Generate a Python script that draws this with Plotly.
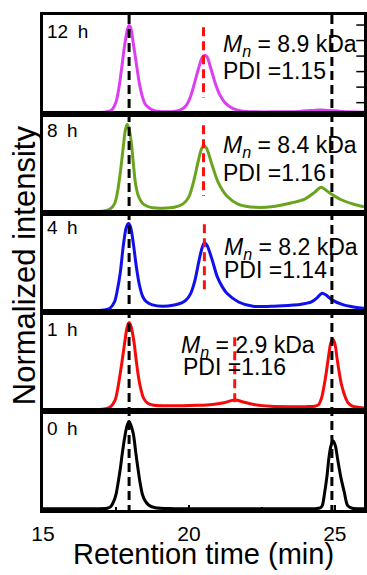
import plotly.graph_objects as go

# ---------------- data ----------------
panel_labels = ["12 h", "8 h", "4 h", "1 h", "0 h"]
mn_values = ["8.9", "8.4", "8.2", "2.9", None]
pdi_values = ["1.15", "1.16", "1.14", "1.16", None]

x_12h = [15.0, 16.0, 16.8, 17.2, 17.35, 17.5, 17.6, 17.7, 17.8, 17.9, 17.95, 18.0, 18.1, 18.2, 18.3, 18.4,
         18.5, 18.65, 18.85, 19.2, 19.5, 19.7, 19.9, 20.05, 20.2, 20.35, 20.45, 20.53, 20.62, 20.75, 20.9,
         21.05, 21.25, 21.5, 21.8, 22.3, 23.0, 23.8, 24.2, 24.5, 24.8, 25.2, 26.0]
y_12h = [0.0, 0.0, 0.0, 0.01, 0.03, 0.12, 0.28, 0.52, 0.78, 0.96, 1.0, 0.98, 0.78, 0.56, 0.34, 0.19,
         0.10, 0.05, 0.02, 0.01, 0.015, 0.03, 0.08, 0.18, 0.35, 0.53, 0.63, 0.657, 0.64, 0.51, 0.34,
         0.21, 0.11, 0.05, 0.02, 0.01, 0.01, 0.015, 0.025, 0.03, 0.025, 0.015, 0.005]

x_8h = [15.0, 16.0, 16.8, 17.15, 17.3, 17.45, 17.55, 17.65, 17.75, 17.82, 17.88, 17.95, 18.03, 18.1, 18.17,
        18.27, 18.4, 18.55, 18.75, 19.1, 19.5, 19.8, 20.0, 20.15, 20.3, 20.42, 20.5, 20.6, 20.8, 21.0, 21.3,
        21.7, 22.3, 22.9, 23.5, 23.95, 24.3, 24.53, 24.8, 25.2, 25.65, 26.0]
y_8h = [0.0, 0.0, 0.0, 0.01, 0.03, 0.09, 0.22, 0.45, 0.74, 0.93, 1.0, 0.95, 0.78, 0.54, 0.32,
        0.18, 0.10, 0.065, 0.045, 0.04, 0.05, 0.09, 0.17, 0.33, 0.55, 0.71, 0.76, 0.73, 0.53, 0.34, 0.18,
        0.085, 0.05, 0.06, 0.10, 0.14, 0.22, 0.28, 0.22, 0.14, 0.085, 0.055]

x_4h = [15.0, 16.0, 16.8, 17.15, 17.3, 17.45, 17.55, 17.65, 17.75, 17.85, 17.93, 18.0, 18.1, 18.2, 18.3,
        18.42, 18.55, 18.75, 19.1, 19.5, 19.75, 19.9, 20.05, 20.2, 20.35, 20.45, 20.53, 20.62, 20.8, 20.97,
        21.15, 21.3, 21.7, 22.2, 22.8, 23.4, 23.8, 24.2, 24.4, 24.56, 24.7, 24.9, 25.3, 25.7, 26.0]
y_4h = [0.0, 0.0, 0.0, 0.01, 0.03, 0.10, 0.24, 0.44, 0.74, 0.95, 1.0, 0.96, 0.76, 0.50, 0.30,
        0.16, 0.10, 0.066, 0.05, 0.066, 0.09, 0.12, 0.19, 0.34, 0.58, 0.72, 0.78, 0.75, 0.58, 0.39,
        0.27, 0.20, 0.10, 0.05, 0.05, 0.06, 0.07, 0.10, 0.15, 0.20, 0.18, 0.124, 0.066, 0.04, 0.028]

x_1h = [15.0, 16.0, 16.8, 17.15, 17.32, 17.47, 17.55, 17.63, 17.72, 17.8, 17.88, 17.95, 18.02, 18.12, 18.2,
        18.27, 18.35, 18.45, 18.6, 18.8, 19.2, 19.8, 20.3, 20.8, 21.2, 21.57, 21.9, 22.3, 22.8, 23.5, 24.0,
        24.3, 24.45, 24.55, 24.63, 24.7, 24.78, 24.85, 24.92, 25.0, 25.08, 25.15, 25.22, 25.32, 25.45,
        25.6, 26.0]
y_1h = [0.0, 0.0, 0.0, 0.01, 0.035, 0.11, 0.22, 0.38, 0.58, 0.77, 0.94, 1.0, 0.95, 0.77, 0.55,
        0.38, 0.24, 0.13, 0.07, 0.05, 0.045, 0.045, 0.05, 0.06, 0.08, 0.11, 0.085, 0.055, 0.04, 0.035, 0.035,
        0.04, 0.06, 0.14, 0.27, 0.41, 0.60, 0.75, 0.81, 0.76, 0.58, 0.43, 0.30, 0.18, 0.08,
        0.04, 0.02]

x_0h = [15.0, 16.0, 16.8, 17.2, 17.32, 17.42, 17.5, 17.58, 17.65, 17.72, 17.8, 17.88, 17.95, 18.02, 18.1,
        18.18, 18.25, 18.32, 18.41, 18.5, 18.63, 18.85, 19.5, 21.0, 23.0, 24.3, 24.5, 24.57, 24.65, 24.73,
        24.79, 24.86, 24.94, 25.02, 25.1, 25.2, 25.33, 25.44, 25.6, 26.0]
y_0h = [0.0, 0.0, 0.0, 0.005, 0.023, 0.08, 0.16, 0.31, 0.46, 0.64, 0.82, 0.95, 1.0, 0.95, 0.85,
        0.64, 0.47, 0.31, 0.16, 0.09, 0.04, 0.01, 0.0, 0.0, 0.0, 0.0, 0.01, 0.035, 0.18, 0.37,
        0.56, 0.71, 0.78, 0.72, 0.56, 0.37, 0.18, 0.035, 0.005, 0.0]

curves_x = [x_12h, x_8h, x_4h, x_1h, x_0h]
curves_y = [y_12h, y_8h, y_4h, y_1h, y_0h]

ref_peak_x = [17.95, 24.9]                    # black dashed reference lines
polymer_peak_x = [20.5, 20.5, 20.53, 21.57]   # red dashed lines
polymer_dash_top = [0.98, 0.99, 0.99, 0.83]
polymer_dash_bottom = [0.17, 0.18, 0.20, 0.03]

x_range = [15, 26]
x_tick_vals = [15, 20, 25]
right_edge_ticks = [0.115, 0.293, 0.471, 0.649, 0.827, 1.005]   # small ticks at the right edge of the top panel

# ---------------- styling ----------------
colors = ["#DC3EF2", "#6AA31E", "#1010EE", "#F50A0A", "#000000"]
FONT = "Liberation Sans, Arial, sans-serif"
W, H = 367, 575
ML, MR, MT, MB = 43, 0, 15, 65
PW, PH = W - ML - MR, H - MT - MB
Y_RANGE = [-0.015, 1.12]


def py2paper(py):
    return (H - MB - py) / PH


def px2paper(px):
    return (px - ML) / PW


fig = go.Figure()
n = len(panel_labels)
for i in range(n):
    ax = "" if i == 0 else str(i + 1)
    fig.add_trace(go.Scatter(
        x=curves_x[i], y=curves_y[i], mode="lines",
        line=dict(color=colors[i], width=3, shape="spline", smoothing=0.8),
        xaxis="x" + ax, yaxis="y" + ax, showlegend=False, hoverinfo="skip"))

# tick marks of the (cropped) right-hand frame in the top panel
fig.add_trace(go.Scatter(
    x=[x_range[1]] * len(right_edge_ticks), y=right_edge_ticks, mode="markers",
    marker=dict(symbol="line-ew", size=11, line=dict(color="black", width=1.5)),
    xaxis="x", yaxis="y", showlegend=False, hoverinfo="skip", cliponaxis=False))

layout = dict(
    width=W, height=H, margin=dict(l=ML, r=MR, t=MT, b=MB),
    paper_bgcolor="white", plot_bgcolor="white",
    font=dict(family=FONT, color="black"),
    showlegend=False,
)

for i in range(n):
    ax = "" if i == 0 else str(i + 1)
    dom_top = 1 - i / n
    dom_bot = 1 - (i + 1) / n
    layout["yaxis" + ax] = dict(
        domain=[dom_bot, dom_top], range=Y_RANGE, showline=True, mirror=True,
        linewidth=3, linecolor="black", showgrid=False, zeroline=False,
        showticklabels=False, ticks="", anchor="x" + ax, fixedrange=True)
    xa = dict(
        range=x_range, showline=True, mirror=True, linewidth=3, linecolor="black",
        showgrid=False, zeroline=False, anchor="y" + ax, fixedrange=True)
    if i == n - 1:
        xa.update(tickvals=x_tick_vals, ticks="inside", ticklen=5, tickwidth=2,
                  tickcolor="black", tickfont=dict(size=21, family=FONT),
                  ticklabelstandoff=3,
                  minor=dict(dtick=2.5, tick0=15, ticks="inside", ticklen=3,
                             tickwidth=2, tickcolor="black"))
    else:
        xa.update(showticklabels=False, ticks="", matches="x5")
    layout["xaxis" + ax] = xa

fig.update_layout(**layout)

shapes = []
for xv in ref_peak_x:
    shapes.append(dict(type="line", xref="x", yref="paper", x0=xv, x1=xv, y0=1, y1=0,
                       line=dict(color="black", width=3, dash="9px,5px")))
for i, xv in enumerate(polymer_peak_x):
    ax = "" if i == 0 else str(i + 1)
    shapes.append(dict(type="line", xref="x" + ax, yref="y" + ax, x0=xv, x1=xv,
                       y0=polymer_dash_top[i], y1=polymer_dash_bottom[i],
                       line=dict(color="#FF1010", width=3, dash="9px,5px")))

annotations = []
label_py = [31, 129.5, 226.5, 328.7, 428]
for i, lab in enumerate(panel_labels):
    annotations.append(dict(
        text=lab.replace(" ", "\u2002"), xref="paper", yref="paper",
        x=px2paper(45), y=py2paper(label_py[i] + 0.5), xanchor="left", yanchor="middle",
        showarrow=False, font=dict(size=19, family=FONT)))

mn_pos = [(224, 42.5), (224, 143.7), (224.5, 245.3), (181, 343.8)]
pdi_pos = [(224, 71), (224, 172), (224.5, 269), (183, 366)]
for i in range(n):
    if mn_values[i] is None:
        continue
    annotations.append(dict(
        text="<i>M<sub>n</sub></i> = " + mn_values[i] + " kDa", xref="paper", yref="paper",
        x=px2paper(mn_pos[i][0]), y=py2paper(mn_pos[i][1] + 3), xanchor="left",
        yanchor="middle", showarrow=False, borderpad=0, font=dict(size=23, family=FONT)))
    annotations.append(dict(
        text="PDI =" + pdi_values[i], xref="paper", yref="paper",
        x=px2paper(pdi_pos[i][0]), y=py2paper(pdi_pos[i][1] + 0.5), xanchor="left",
        yanchor="middle", showarrow=False, borderpad=0, font=dict(size=23, family=FONT)))

annotations.append(dict(
    text="Retention time (min)", xref="paper", yref="paper", x=0.5, y=py2paper(554),
    xanchor="center", yanchor="middle", showarrow=False, borderpad=0,
    font=dict(size=29, family=FONT)))
annotations.append(dict(
    text="Normalized intensity", xref="paper", yref="paper", x=px2paper(24), y=py2paper(265),
    xanchor="center", yanchor="middle", textangle=-90, showarrow=False,
    font=dict(size=31, family=FONT)))

fig.update_layout(shapes=shapes, annotations=annotations)
fig.write_html("out.html")
